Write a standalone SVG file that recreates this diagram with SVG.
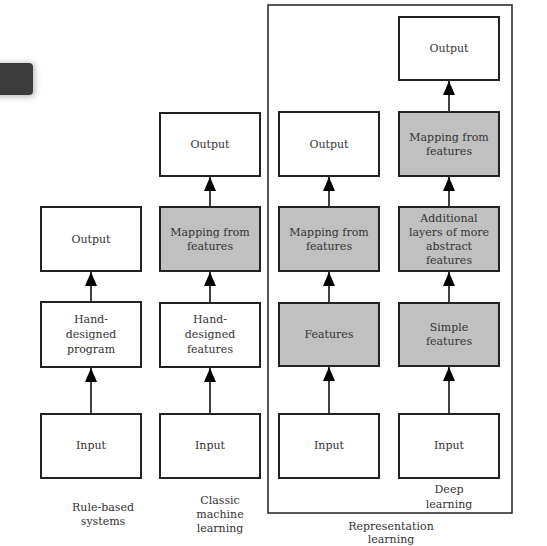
<svg xmlns="http://www.w3.org/2000/svg" width="547" height="546" viewBox="0 0 547 546">
<style>
.box{fill:#fff;stroke:#222;stroke-width:2}
.g{fill:#c0c0c0}
text{font-family:"DejaVu Serif","Liberation Serif",serif;font-size:11px;fill:#333;text-anchor:middle}
.c{stroke:#111;stroke-width:1.6;fill:none;marker-end:url(#ah)}
</style>
<defs>
<marker id="ah" markerUnits="userSpaceOnUse" markerWidth="14" markerHeight="12" viewBox="0 0 14 12" refX="14" refY="6" orient="auto">
<path d="M0,0 L14,6 L0,12 Z" fill="#000"/>
</marker>
<filter id="sh" x="-50%" y="-50%" width="200%" height="200%"><feGaussianBlur stdDeviation="3"/></filter>
</defs>
<rect width="547" height="546" fill="#fff"/>
<g id="tab">
<rect x="-10" y="63" width="45" height="34" rx="4" fill="#bbb" filter="url(#sh)"/>
<rect x="-10" y="63" width="43" height="32" rx="4" fill="#3b3b3b"/>
</g>
<g id="rep-frame"><rect x="268" y="5" width="244" height="508" fill="none" stroke="#222" stroke-width="1.5"/></g>
<g id="connectors">
<line class="c" x1="91" y1="414" x2="91" y2="368"/>
<line class="c" x1="91" y1="302" x2="91" y2="272"/>
<line class="c" x1="210" y1="414" x2="210" y2="368"/>
<line class="c" x1="210" y1="303" x2="210" y2="272"/>
<line class="c" x1="210" y1="207" x2="210" y2="177"/>
<line class="c" x1="329" y1="414" x2="329" y2="367"/>
<line class="c" x1="329" y1="303" x2="329" y2="272"/>
<line class="c" x1="329" y1="207" x2="329" y2="177"/>
<line class="c" x1="449" y1="414" x2="449" y2="367"/>
<line class="c" x1="449" y1="303" x2="449" y2="272"/>
<line class="c" x1="449" y1="207" x2="449" y2="177"/>
<line class="c" x1="449" y1="112" x2="449" y2="81"/>
</g>
<g id="c1-input"><rect class="box" x="41" y="414" width="100" height="64"/><text x="91" y="449">Input</text></g>
<g id="c1-program"><rect class="box" x="41" y="302" width="100" height="65"/><text x="91" y="323">Hand-</text><text x="91" y="338">designed</text><text x="91" y="353">program</text></g>
<g id="c1-output"><rect class="box" x="41" y="207" width="100" height="64"/><text x="91" y="243">Output</text></g>
<g id="c2-input"><rect class="box" x="160" y="414" width="100" height="64"/><text x="210" y="449">Input</text></g>
<g id="c2-features"><rect class="box" x="160" y="303" width="100" height="64"/><text x="210" y="323">Hand-</text><text x="210" y="338">designed</text><text x="210" y="353">features</text></g>
<g id="c2-mapping"><rect class="box g" x="160" y="207" width="100" height="64"/><text x="210" y="236">Mapping from</text><text x="210" y="250">features</text></g>
<g id="c2-output"><rect class="box" x="160" y="113" width="100" height="63"/><text x="210" y="148">Output</text></g>
<g id="c3-input"><rect class="box" x="279" y="414" width="100" height="64"/><text x="329" y="449">Input</text></g>
<g id="c3-features"><rect class="box g" x="279" y="303" width="100" height="63"/><text x="329" y="338">Features</text></g>
<g id="c3-mapping"><rect class="box g" x="279" y="207" width="100" height="64"/><text x="329" y="236">Mapping from</text><text x="329" y="250">features</text></g>
<g id="c3-output"><rect class="box" x="279" y="112" width="100" height="64"/><text x="329" y="148">Output</text></g>
<g id="c4-input"><rect class="box" x="399" y="414" width="100" height="64"/><text x="449" y="449">Input</text></g>
<g id="c4-simple"><rect class="box g" x="399" y="303" width="100" height="63"/><text x="449" y="331">Simple</text><text x="449" y="345">features</text></g>
<g id="c4-additional"><rect class="box g" x="399" y="207" width="100" height="64"/><text x="449" y="222">Additional</text><text x="449" y="236">layers of more</text><text x="449" y="250">abstract</text><text x="449" y="264">features</text></g>
<g id="c4-mapping"><rect class="box g" x="399" y="112" width="100" height="64"/><text x="449" y="141">Mapping from</text><text x="449" y="155">features</text></g>
<g id="c4-output"><rect class="box" x="399" y="17" width="100" height="63"/><text x="449" y="52">Output</text></g>
<g id="labels">
<text x="103" y="511">Rule-based</text><text x="103" y="525">systems</text>
<text x="220" y="504">Classic</text><text x="220" y="518">machine</text><text x="220" y="532">learning</text>
<text x="449" y="493">Deep</text><text x="449" y="508">learning</text>
<text x="391" y="530">Representation</text><text x="391" y="543">learning</text>
</g>
</svg>
